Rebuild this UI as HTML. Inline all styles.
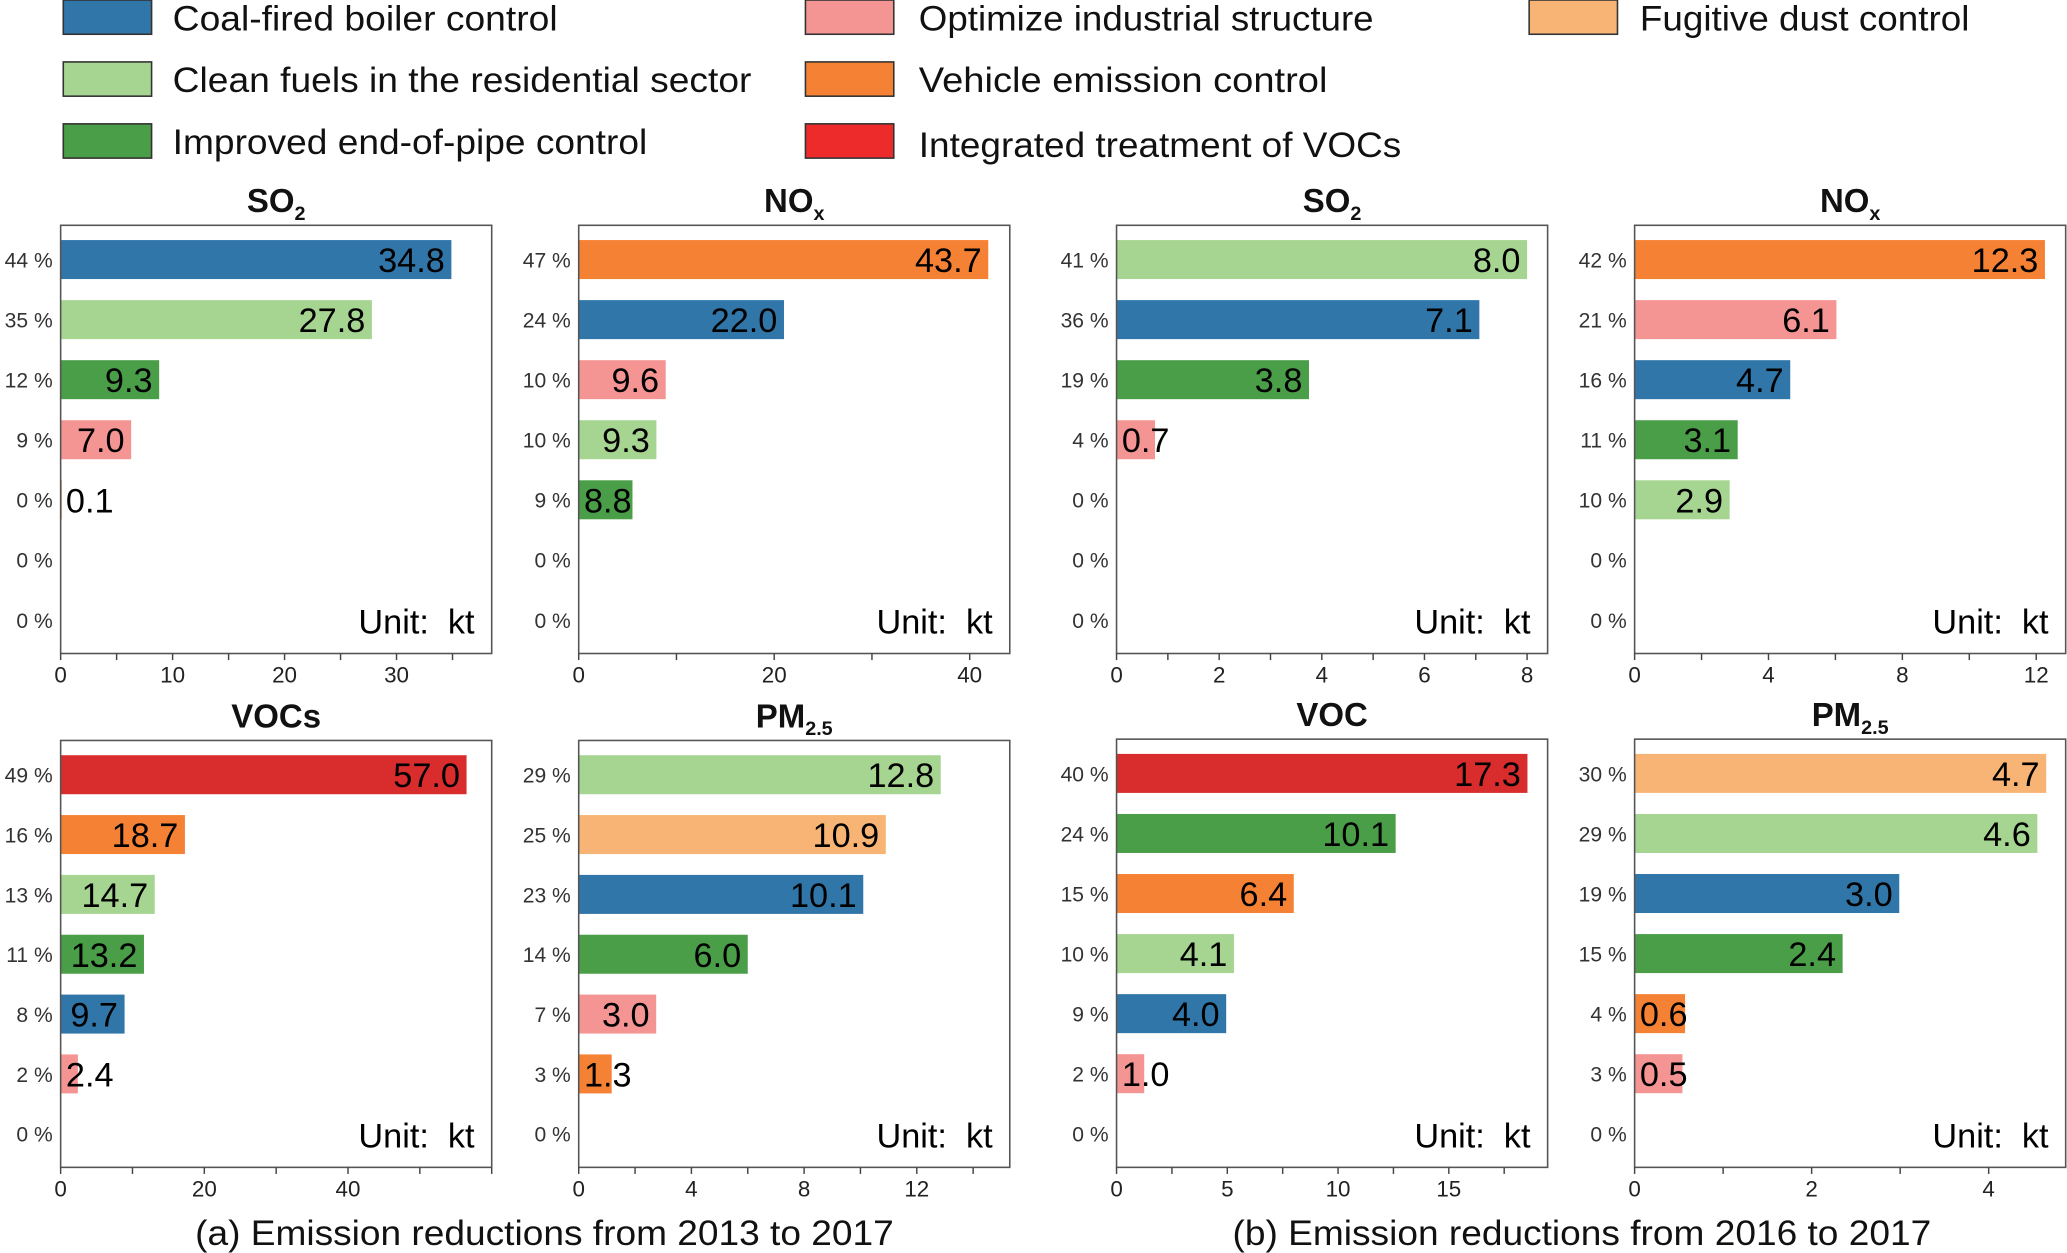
<!DOCTYPE html>
<html><head><meta charset="utf-8"><style>
html,body{margin:0;padding:0;background:#fff;}
svg{display:block;}
text{font-family:"Liberation Sans Narrow","Liberation Sans",sans-serif;}
</style></head><body>
<svg id="fig" xmlns="http://www.w3.org/2000/svg" width="2067" height="1253" viewBox="0 0 1568 951" preserveAspectRatio="none"></svg>
<script>
// ---- data ----
const colorKeys = ["coal","clean","pipe","opt","veh","voc","dust"];
const colorVals = ["#3076a9","#a6d591","#4a9e47","#f49594","#f58134","#d92c2d","#f8b474"];
const legendNames = ["Coal-fired boiler control","Clean fuels in the residential sector","Improved end-of-pipe control","Optimize industrial structure","Vehicle emission control","Integrated treatment of VOCs","Fugitive dust control"];

const so2aCats = ["coal","clean","pipe","opt","veh"];
const so2aValues = [34.9,27.8,8.8,6.3,0.1];
const so2aLabels = ["34.8","27.8","9.3","7.0","0.1"];
const so2aPct = [44,35,12,9,0,0,0];
const so2aTicks = [0,10,20,30];

const noxaCats = ["veh","coal","opt","clean","pipe"];
const noxaValues = [41.9,21.0,8.9,7.95,5.5];
const noxaLabels = ["43.7","22.0","9.6","9.3","8.8"];
const noxaPct = [47,24,10,10,9,0,0];
const noxaTicks = [0,20,40];

const so2bCats = ["clean","coal","pipe","opt","veh"];
const so2bValues = [8.0,7.07,3.75,0.75,0];
const so2bLabels = ["8.0","7.1","3.8","0.7",""];
const so2bPct = [41,36,19,4,0,0,0];
const so2bTicks = [0,2,4,6,8];

const noxbCats = ["veh","opt","coal","pipe","clean"];
const noxbValues = [12.26,6.03,4.65,3.08,2.84];
const noxbLabels = ["12.3","6.1","4.7","3.1","2.9"];
const noxbPct = [42,21,16,11,10,0,0];
const noxbTicks = [0,4,8,12];

const vocaCats = ["voc","veh","clean","pipe","coal","opt"];
const vocaValues = [56.5,17.3,13.1,11.6,8.9,2.4];
const vocaLabels = ["57.0","18.7","14.7","13.2","9.7","2.4"];
const vocaPct = [49,16,13,11,8,2,0];
const vocaTicks = [0,20,40];

const pmaCats = ["clean","dust","coal","pipe","opt","veh"];
const pmaValues = [12.85,10.9,10.1,6.0,2.75,1.17];
const pmaLabels = ["12.8","10.9","10.1","6.0","3.0","1.3"];
const pmaPct = [29,25,23,14,7,3,0];
const pmaTicks = [0,4,8,12];

const vocbCats = ["voc","pipe","veh","clean","coal","opt"];
const vocbValues = [18.55,12.6,8.0,5.3,4.95,1.25];
const vocbLabels = ["17.3","10.1","6.4","4.1","4.0","1.0"];
const vocbPct = [40,24,15,10,9,2,0];
const vocbTicks = [0,5,10,15];

const pmbCats = ["dust","clean","coal","pipe","veh","opt"];
const pmbValues = [4.65,4.55,2.99,2.35,0.57,0.54];
const pmbLabels = ["4.7","4.6","3.0","2.4","0.6","0.5"];
const pmbPct = [30,29,19,15,4,3,0];
const pmbTicks = [0,2,4];

// ---- drawing ----
const NS="http://www.w3.org/2000/svg";
const svg=document.getElementById('fig');
function mk(tag,attrs,parent){const e=document.createElementNS(NS,tag);for(const k in attrs)e.setAttribute(k,attrs[k]);(parent||svg).appendChild(e);return e;}
function colorOf(k){return colorVals[colorKeys.indexOf(k)];}

// legend
const legX=[[48,131],[611,697],[1160,1244]];
const legRows=[0,47,94];
const legOrder=[[0,0],[0,1],[0,2],[1,0],[1,1],[1,2],[2,0]];
const legW=[292,439,360,345,310,366,250];
const legendColors=["#3076a9","#a6d591","#4a9e47","#f49594","#f58134","#ee2b2b","#f8b474"];
legOrder.forEach((p,i)=>{
  const g=mk('g',{});
  
  
  const y=legRows[p[1]];
  mk('rect',{x:legX[p[0]][0],y:y,width:67,height:26,fill:legendColors[i],stroke:'#333','stroke-width':1.2},g);
  const t=mk('text',{x:legX[p[0]][1],y:y+23+(i==5?2:0),'font-size':27,fill:'#111',textLength:legW[i],lengthAdjust:'spacingAndGlyphs'},g);
  t.textContent=legendNames[i];
});

function panel(name,title,sub,left,top,bottom,xmax,minor,cats,vals,labels,pct,ticks){
  const width=327;
  const g=mk('g',{});
  
  
  const xs=v=>left+v*width/xmax;
  const ys=i=>top+26+i*((bottom-top-51.5)/6);
  const tt=mk('text',{x:left+width/2,y:top-10,'text-anchor':'middle','font-size':25,'font-weight':'bold',fill:'#111'},g);
  
  
  tt.textContent=title;
  if(sub){const ts=mk('tspan',{'font-size':15,dy:6},tt);ts.textContent=sub;}
  cats.forEach((c,i)=>{
    const r=mk('rect',{x:xs(0),y:ys(i)-14.8,width:Math.max(0,xs(vals[i])-xs(0)),height:29.6,fill:colorOf(c)},g);
    
    
    if(labels[i]){
      const w=labels[i].length*12.6;
      let x=xs(vals[i])-5, anchor='end';
      if(x-w<left+3){x=left+4;anchor='start';}
      const t=mk('text',{x:x,y:ys(i)+9.5,'text-anchor':anchor,'font-size':26,fill:'#000'},g);
      
      
      t.textContent=labels[i];
    }
  });
  pct.forEach((p,i)=>{
    const t=mk('text',{x:left-6,y:ys(i)+6,'text-anchor':'end','font-size':16,fill:'#333'},g);
    
    
    t.textContent=p+' %';
  });
  const fr=mk('rect',{x:left,y:top,width:width,height:bottom-top,fill:'none',stroke:'#555','stroke-width':1.2},g);
  
  
  for(let v=0;v<=xmax+1e-9;v+=minor){
    mk('line',{x1:xs(v),x2:xs(v),y1:bottom,y2:bottom+5,stroke:'#444','stroke-width':1.1},g);
  }
  ticks.forEach(v=>{
    const t=mk('text',{x:xs(v),y:bottom+22,'text-anchor':'middle','font-size':17,fill:'#222'},g);
    
    
    t.textContent=v;
  });
  const u=mk('text',{x:left+width-13,y:bottom-15,'text-anchor':'end','font-size':26,fill:'#000'},g);
  
  
  u.textContent='Unit:\u00a0 kt';
}
const cols=[46,439,847,1240];
panel('so2-2013','SO','2',cols[0],171,496,38.5,5,so2aCats,so2aValues,so2aLabels,so2aPct,so2aTicks);
panel('nox-2013','NO','x',cols[1],171,496,44.1,10,noxaCats,noxaValues,noxaLabels,noxaPct,noxaTicks);
panel('so2-2016','SO','2',cols[2],171,496,8.4,1,so2bCats,so2bValues,so2bLabels,so2bPct,so2bTicks);
panel('nox-2016','NO','x',cols[3],171,496,12.88,2,noxbCats,noxbValues,noxbLabels,noxbPct,noxbTicks);
panel('voc-2013','VOCs','',cols[0],562,886,60,10,vocaCats,vocaValues,vocaLabels,vocaPct,vocaTicks);
panel('pm25-2013','PM','2.5',cols[1],562,886,15.3,2,pmaCats,pmaValues,pmaLabels,pmaPct,pmaTicks);
panel('voc-2016','VOC','',cols[2],561,886,19.46,2.5,vocbCats,vocbValues,vocbLabels,vocbPct,vocbTicks);
panel('pm25-2016','PM','2.5',cols[3],561,886,4.87,1,pmbCats,pmbValues,pmbLabels,pmbPct,pmbTicks);

const c1=mk('text',{x:148,y:945,'font-size':27,fill:'#111',textLength:530,lengthAdjust:'spacingAndGlyphs'});


c1.textContent='(a) Emission reductions from 2013 to 2017';
const c2=mk('text',{x:935,y:945,'font-size':27,fill:'#111',textLength:530,lengthAdjust:'spacingAndGlyphs'});


c2.textContent='(b) Emission reductions from 2016 to 2017';
</script>
</body></html>
